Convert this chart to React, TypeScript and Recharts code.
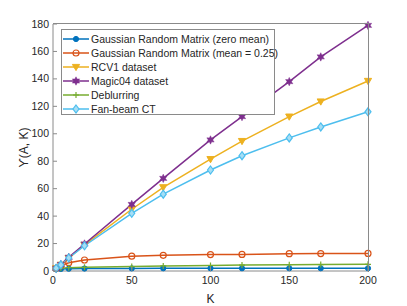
import React from 'react';
import { LineChart, Line, XAxis, YAxis, Legend } from 'recharts';

const kValues = [2, 5, 10, 20, 50, 70, 100, 120, 150, 170, 200];
const zeroMean = [1.2, 1.5, 1.7, 1.8, 1.9, 2, 2, 2, 2, 2, 2];
const meanQuarter = [2, 3.8, 6, 8, 10.8, 11.4, 12, 12.1, 12.6, 12.7, 12.8];
const rcv1 = [2, 4.5, 9.5, 19, 45, 61, 81.5, 94.7, 112.5, 123.5, 138.5];
const magic04 = [2, 4.8, 10, 19.7, 48.5, 67.5, 95.5, 112.5, 138, 156, 179];
const deblurring = [1.5, 2, 2.4, 2.7, 3.2, 3.7, 4, 4.3, 4.6, 4.7, 4.9];
const fanBeam = [2, 4.5, 9.5, 18.4, 42, 56, 73.6, 84, 97, 105, 116];

const xTicks = [0, 50, 100, 150, 200];
const yTicks = [0, 20, 40, 60, 80, 100, 120, 140, 160, 180];

const data = kValues.map((k, i) => ({
  k,
  zeroMean: zeroMean[i],
  meanQuarter: meanQuarter[i],
  rcv1: rcv1[i],
  magic04: magic04[i],
  deblurring: deblurring[i],
  fanBeam: fanBeam[i],
}));

const FONT = '"Liberation Sans", Arial, sans-serif';
const TEXT = '#262626';
const AXIS = '#8a8a8a';

type Kind = 'dot' | 'ring' | 'tri' | 'star' | 'plus' | 'diamond';

const series: { key: string; name: string; color: string; kind: Kind }[] = [
  { key: 'zeroMean', name: 'Gaussian Random Matrix (zero mean)', color: '#0072BD', kind: 'dot' },
  { key: 'meanQuarter', name: 'Gaussian Random Matrix (mean = 0.25)', color: '#D95319', kind: 'ring' },
  { key: 'rcv1', name: 'RCV1 dataset', color: '#EDB120', kind: 'tri' },
  { key: 'magic04', name: 'Magic04 dataset', color: '#7E2F8E', kind: 'star' },
  { key: 'deblurring', name: 'Deblurring', color: '#77AC30', kind: 'plus' },
  { key: 'fanBeam', name: 'Fan-beam CT', color: '#4DBEEE', kind: 'diamond' },
];

const marker = (kind: Kind, cx: number, cy: number, color: string, key?: any) => {
  const r = 3;
  if (kind === 'dot') return <circle key={key} cx={cx} cy={cy} r={2.6} fill={color} stroke={color} />;
  if (kind === 'ring') return <circle key={key} cx={cx} cy={cy} r={r} fill="none" stroke={color} strokeWidth={1.2} />;
  if (kind === 'tri')
    return (
      <polygon key={key} points={`${cx - 3.6},${cy - 2.6} ${cx + 3.6},${cy - 2.6} ${cx},${cy + 3.6}`} fill={color} stroke={color} />
    );
  if (kind === 'star') {
    const pts: string[] = [];
    for (let i = 0; i < 12; i++) {
      const a = (Math.PI / 6) * i - Math.PI / 2;
      const rr = i % 2 === 0 ? 4.2 : 2.2;
      pts.push(`${cx + rr * Math.cos(a)},${cy + rr * Math.sin(a)}`);
    }
    return <polygon key={key} points={pts.join(' ')} fill={color} stroke={color} strokeWidth={0.5} />;
  }
  if (kind === 'plus')
    return (
      <path key={key} d={`M${cx - 3},${cy}H${cx + 3}M${cx},${cy - 3}V${cy + 3}`} stroke={color} strokeWidth={1.2} />
    );
  return (
    <polygon
      key={key}
      points={`${cx},${cy - 4} ${cx + 3},${cy} ${cx},${cy + 4} ${cx - 3},${cy}`}
      fill="#a6def5"
      stroke={color}
      strokeWidth={1.2}
    />
  );
};

const LeftTick = (props: any) => {
  const { x, y, payload } = props;
  return (
    <g>
      <line x1={x} x2={x + 4} y1={y} y2={y} stroke={AXIS} />
      <text x={x - 4} y={y} dy={3.5} textAnchor="end" fontSize={10.5} fill={TEXT} fontFamily={FONT}>
        {payload.value}
      </text>
    </g>
  );
};

const BottomTick = (props: any) => {
  const { x, y, payload } = props;
  return (
    <g>
      <line x1={x} x2={x} y1={y - 4} y2={y} stroke={AXIS} />
      <text x={x} y={y + 13} textAnchor="middle" fontSize={10.5} fill={TEXT} fontFamily={FONT}>
        {payload.value}
      </text>
    </g>
  );
};

const LegendBox = () => (
  <div
    style={{
      background: '#fff',
      border: `1px solid ${AXIS}`,
      width: 214,
      height: 86,
      boxSizing: 'border-box',
      paddingTop: 2,
    }}
  >
    {series.map((s) => (
      <div key={s.key} style={{ display: 'flex', alignItems: 'center', height: 14 }}>
        <svg width={29} height={14} style={{ flex: 'none' }}>
          <line x1={1} x2={27} y1={7} y2={7} stroke={s.color} strokeWidth={1.5} />
          {marker(s.kind, 14, 7, s.color)}
        </svg>
        <span style={{ fontFamily: FONT, fontSize: 10.5, color: TEXT, whiteSpace: 'nowrap', marginLeft: 0 }}>
          {s.name}
        </span>
      </div>
    ))}
  </div>
);

export default function App() {
  return (
    <div style={{ position: 'absolute', left: 0, top: 0, width: 407, height: 306, background: '#fff' }}>
      <LineChart width={407} height={306} data={data} margin={{ top: 24, right: 39, left: 0, bottom: 0 }}>
        <XAxis
          dataKey="k"
          type="number"
          domain={[0, 200]}
          ticks={xTicks}
          height={35}
          tickSize={0}
          tickMargin={0}
          tickLine={false}
          stroke={AXIS}
          tick={<BottomTick />}
          label={{ value: 'K', position: 'insideBottom', offset: 3, fill: TEXT, fontSize: 12, fontFamily: FONT }}
        />
        <YAxis
          type="number"
          domain={[0, 180]}
          ticks={yTicks}
          width={53}
          tickSize={0}
          tickMargin={0}
          tickLine={false}
          stroke={AXIS}
          tick={<LeftTick />}
          label={{
            value: 'ϒ(A, K)',
            angle: -90,
            position: 'insideLeft',
            offset: 24,
            fill: TEXT,
            fontSize: 12,
            fontFamily: FONT,
            style: { textAnchor: 'middle' },
          }}
        />
        <Legend
          content={<LegendBox />}
          layout="horizontal"
          verticalAlign="middle"
          align="center"
          wrapperStyle={{ left: 61, top: 29, width: 214 }}
        />
        {series.map((s) => (
          <Line
            key={s.key}
            dataKey={s.key}
            name={s.name}
            stroke={s.color}
            strokeWidth={1.5}
            isAnimationActive={false}
            dot={(p: any) => marker(s.kind, p.cx, p.cy, s.color, p.index)}
            activeDot={false}
          />
        ))}
      </LineChart>
      {/* top and right edges of the axes box */}
      <div
        style={{
          position: 'absolute',
          left: 53,
          top: 23,
          width: 315,
          height: 248,
          borderTop: `1px solid ${AXIS}`,
          borderRight: `1px solid ${AXIS}`,
          pointerEvents: 'none',
        }}
      />
    </div>
  );
}
